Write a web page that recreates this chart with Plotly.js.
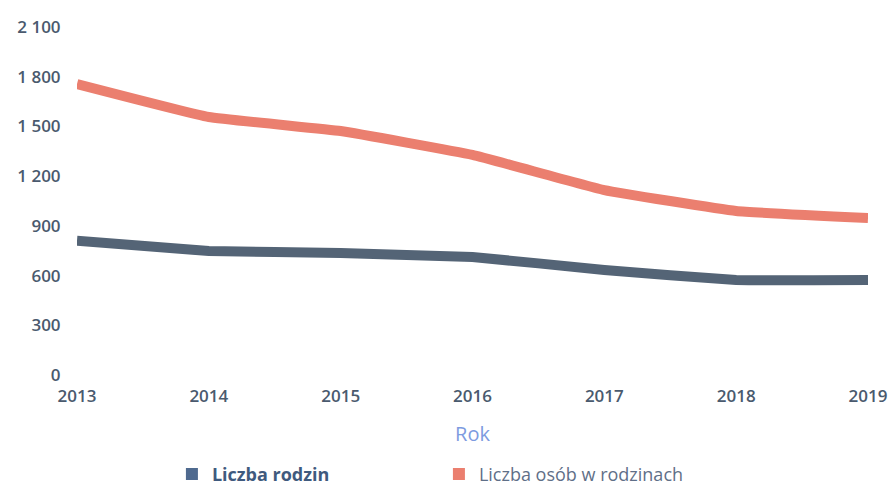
<!DOCTYPE html>
<html><head><meta charset="utf-8">
<script src="https://cdn.plot.ly/plotly-3.0.1.min.js"></script>
<style>html,body{margin:0;padding:0;background:#fff}#c{width:893px;height:486px}</style>
</head><body><div id="c"></div>
<script>
const years = [2013, 2014, 2015, 2016, 2017, 2018, 2019];
const rodziny = [810, 748, 736, 712, 634, 573, 573];
const osoby = [1756, 1557, 1472, 1328, 1116, 990, 947];
const yTickVals = [0, 300, 600, 900, 1200, 1500, 1800, 2100];
const yTickText = ['0', '300', '600', '900', '1 200', '1 500', '1 800', '2 100'];
const seriesNames = ['Liczba rodzin', 'Liczba osób w rodzinach'];

const cDark = '#546476', cSalmon = '#EB7F6F';
const traces = [
  {x: years, y: rodziny, mode: 'lines', line: {color: cDark, width: 10, shape: 'spline', smoothing: 0.2}, showlegend: false, hoverinfo: 'x+y'},
  {x: years, y: osoby, mode: 'lines', line: {color: cSalmon, width: 10, shape: 'spline', smoothing: 0.3}, showlegend: false, hoverinfo: 'x+y'},
  {type: 'bar', x: [null], y: [null], marker: {color: '#4f6a8f'}, name: '<b><span style="color:#3f5a7e">' + seriesNames[0] + '</span></b>'},
  {type: 'bar', x: [null], y: [null], marker: {color: cSalmon}, name: '<span style="color:#5f6f88">' + seriesNames[1] + '</span>'}
];
const layout = {
  width: 893, height: 486,
  margin: {l: 77, r: 25, t: 27, b: 111},
  paper_bgcolor: '#fff', plot_bgcolor: '#fff',
  font: {family: 'Open Sans, sans-serif', size: 17, color: '#4a5a6e'},
  xaxis: {
    range: [2013, 2019], tickvals: years, ticktext: years.map(String),
    showgrid: false, zeroline: false, showline: false,
    ticks: 'outside', ticklen: 6, tickcolor: 'rgba(0,0,0,0)',
    tickfont: {family: 'Open Sans, sans-serif', size: 17, color: '#4a5a6e', weight: 600},
    title: {text: 'Rok', font: {size: 20, color: '#7d9be0'}, standoff: 20}
  },
  yaxis: {
    range: [0, 2100], tickvals: yTickVals, ticktext: yTickText,
    showgrid: false, zeroline: false, showline: false,
    ticks: 'outside', ticklen: 12, tickcolor: 'rgba(0,0,0,0)',
    tickfont: {family: 'Open Sans, sans-serif', size: 17, color: '#4a5a6e', weight: 600}
  },
  legend: {orientation: 'h', x: 0.12, xanchor: 'left', yref: 'container', y: 0.024, yanchor: 'middle',
    font: {size: 18}, entrywidth: 222, entrywidthmode: 'pixels', itemwidth: 30},
  showlegend: true
};
Plotly.newPlot('c', traces, layout, {displayModeBar: false, staticPlot: true});
</script></body></html>
